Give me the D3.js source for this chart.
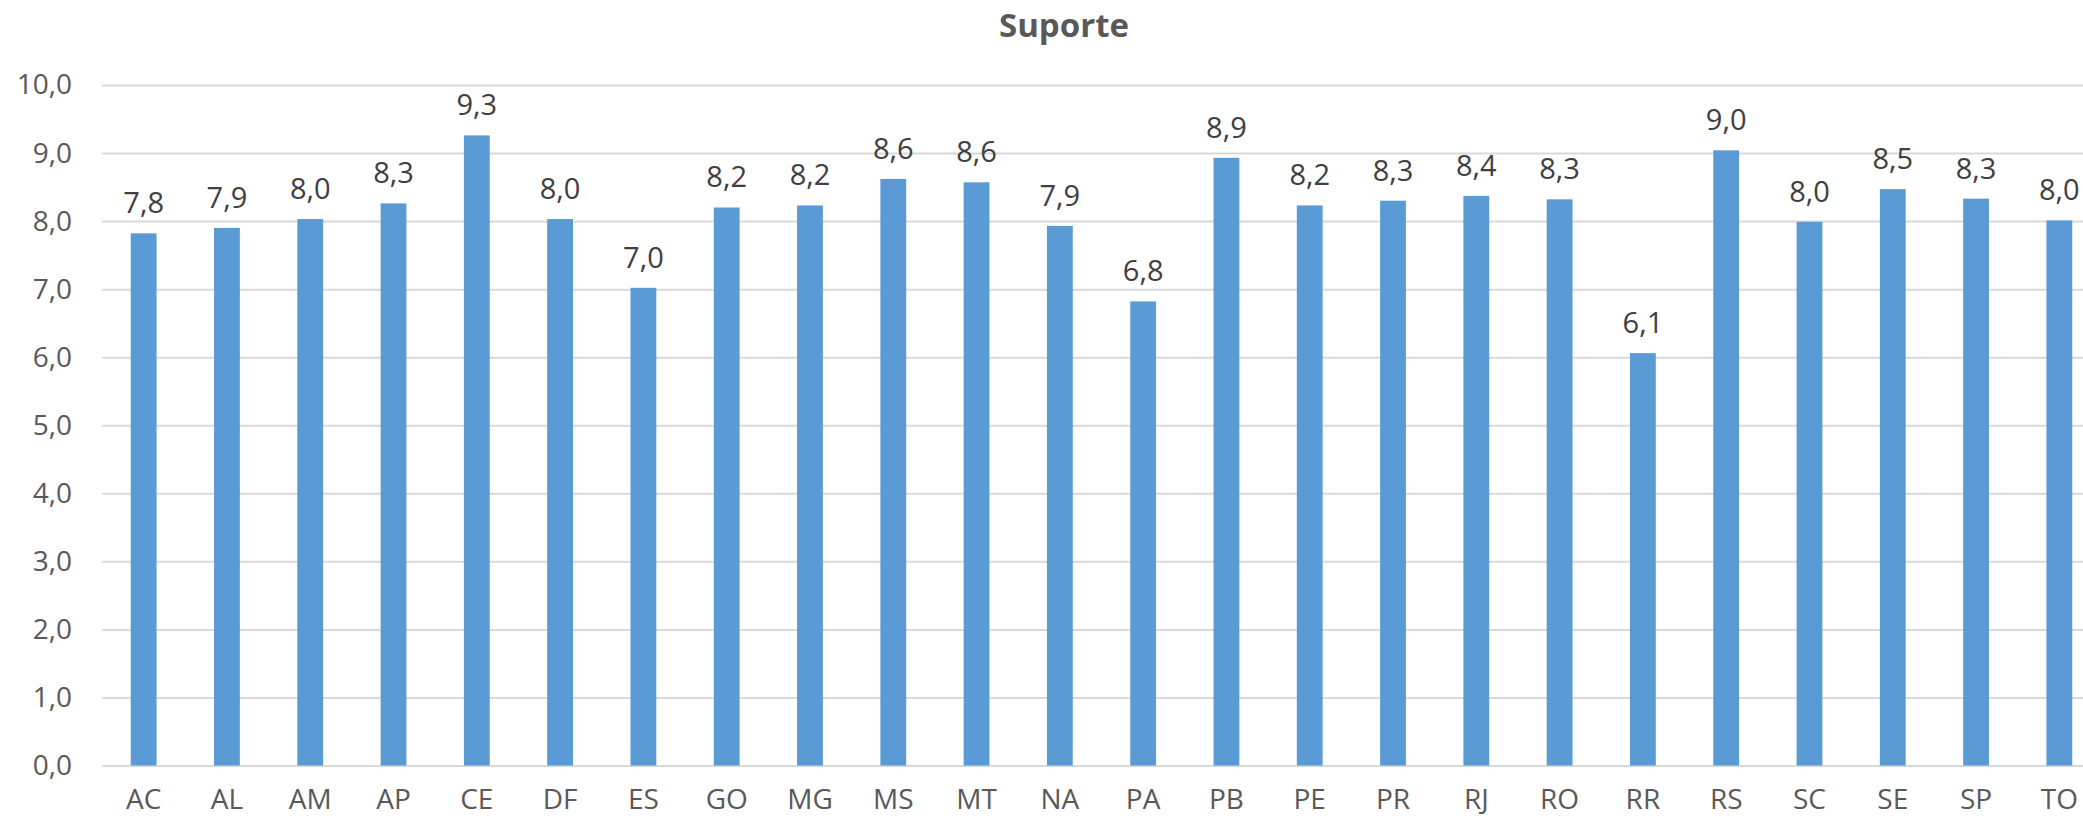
<!DOCTYPE html>
<html>
<head>
<meta charset="utf-8">
<script src="https://cdn.jsdelivr.net/npm/d3@7"></script>
<style>
  html, body { margin: 0; padding: 0; background: #fff; overflow: hidden; }
  svg { display: block; font-family: "Open Sans", sans-serif; }
</style>
</head>
<body>
<svg id="chart"></svg>
<script>
const title = "Suporte";
const states = ["AC", "AL", "AM", "AP", "CE", "DF", "ES", "GO", "MG", "MS", "MT", "NA",
  "PA", "PB", "PE", "PR", "RJ", "RO", "RR", "RS", "SC", "SE", "SP", "TO"];
const scores = [7.82, 7.90, 8.03, 8.26, 9.26, 8.03, 7.02, 8.20, 8.23, 8.62, 8.57, 7.93,
  6.82, 8.93, 8.23, 8.30, 8.37, 8.32, 6.06, 9.04, 7.99, 8.47, 8.33, 8.01];
const yTicks = [0, 1, 2, 3, 4, 5, 6, 7, 8, 9, 10];

const width = 2083, height = 820;
// plot runs a little past the right edge, like the cropped original
const margin = { top: 85, right: -18, bottom: 54, left: 102 };

const fmt = v => v.toFixed(1).replace(".", ",");

const svg = d3.select("#chart")
  .attr("width", width)
  .attr("height", height)
  .attr("viewBox", [0, 0, width, height]);

const x = d3.scaleBand()
  .domain(states)
  .range([margin.left, width - margin.right])
  .paddingInner(0.69)
  .paddingOuter(0.345);

const y = d3.scaleLinear()
  .domain([0, 10])
  .range([height - margin.bottom - 0.5, margin.top]);

// gridlines + y labels
const yAxis = g => g
  .attr("transform", `translate(${margin.left},0)`)
  .call(d3.axisLeft(y).tickValues(yTicks).tickFormat(fmt)
    .tickSize(-(width - margin.left - margin.right)).tickPadding(30))
  .call(g => g.select(".domain").remove())
  .call(g => g.selectAll(".tick line").attr("stroke", "#d9d9d9").attr("stroke-width", 2))
  .call(g => g.selectAll(".tick text")
    .attr("fill", "#595959")
    .attr("font-size", 28)
    .attr("font-family", "Open Sans, sans-serif"));

svg.append("g").call(yAxis);

svg.append("g")
  .attr("fill", "#5b9bd5")
  .selectAll("rect")
  .data(scores)
  .join("rect")
  .attr("x", (d, i) => x(states[i]))
  .attr("y", d => y(d))
  .attr("width", x.bandwidth())
  .attr("height", d => y(0) - y(d));

// value labels
svg.append("g")
  .attr("fill", "#404040")
  .attr("font-size", 29)
  .attr("text-anchor", "middle")
  .selectAll("text")
  .data(scores)
  .join("text")
  .attr("x", (d, i) => x(states[i]) + x.bandwidth() / 2)
  .attr("y", d => y(d) - 20)
  .text(fmt);

const xAxis = g => g
  .attr("transform", `translate(0,${y(0)})`)
  .call(d3.axisBottom(x).tickSize(0).tickPadding(24))
  .call(g => g.select(".domain").remove())
  .call(g => g.selectAll(".tick text")
    .attr("fill", "#595959")
    .attr("font-size", 28)
    .attr("font-family", "Open Sans, sans-serif"));

svg.append("g").call(xAxis);

svg.append("text")
  .attr("x", 1064)
  .attr("y", 37)
  .attr("text-anchor", "middle")
  .attr("fill", "#595959")
  .attr("font-weight", "bold")
  .attr("font-size", 33)
  .text(title);
</script>
</body>
</html>
